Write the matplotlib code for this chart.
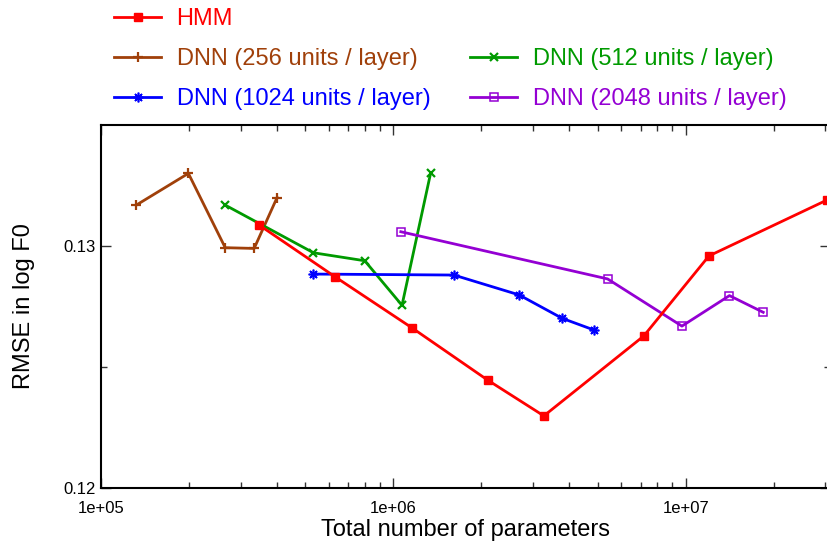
import matplotlib
matplotlib.use("Agg")
import matplotlib.pyplot as plt
from matplotlib.lines import Line2D
from matplotlib.ticker import FixedLocator, LogLocator, NullFormatter

plt.rcParams['font.family'] = ['Liberation Sans', 'DejaVu Sans']

# values
hmm_x = [3.47e5, 6.33e5, 1.16e6, 2.10e6, 3.27e6, 7.18e6, 1.20e7, 3.04e7]
hmm_y = [0.13087, 0.12872, 0.12661, 0.12446, 0.12298, 0.12628, 0.12959, 0.1319]

dnn256_x = [1.32e5, 1.99e5, 2.66e5, 3.34e5, 4.0e5]
dnn256_y = [0.13169, 0.13300, 0.12993, 0.12990, 0.13200]

dnn512_x = [2.66e5, 5.33e5, 7.98e5, 1.07e6, 1.34e6]
dnn512_y = [0.13169, 0.12972, 0.12939, 0.12755, 0.13300]

dnn1024_x = [5.33e5, 1.61e6, 2.69e6, 3.78e6, 4.85e6]
dnn1024_y = [0.12884, 0.12880, 0.12798, 0.12701, 0.12653]

dnn2048_x = [1.06e6, 5.40e6, 9.7e6, 1.41e7, 1.84e7]
dnn2048_y = [0.13059, 0.12864, 0.12669, 0.12795, 0.12726]

series_labels = ["HMM", "DNN (256 units / layer)", "DNN (512 units / layer)",
                 "DNN (1024 units / layer)", "DNN (2048 units / layer)"]

y_ticks = [0.12, 0.13]
y_tick_labels = ["0.12", "0.13"]
x_ticks = [1e5, 1e6, 1e7]
x_tick_labels = ["1e+05", "1e+06", "1e+07"]

W, H = 828, 544
fig = plt.figure(figsize=(W / 100, H / 100), dpi=100)
ax = fig.add_axes([101 / W, (H - 488) / H, 729 / W, 363 / H])

red = '#ff0000'
brown = '#a0400a'
green = '#009a00'
blue = '#0000ff'
purple = '#9400d3'
lw = 2.0

h_hmm, = ax.plot(hmm_x, hmm_y, color=red, lw=lw, marker='s', ms=5.5,
                 clip_on=False, zorder=5)
h_256, = ax.plot(dnn256_x, dnn256_y, color=brown, lw=lw, marker='+', ms=7,
                 mew=1.6)
h_512, = ax.plot(dnn512_x, dnn512_y, color=green, lw=lw, marker='x', ms=6,
                 mew=1.6)
h_1024, = ax.plot(dnn1024_x, dnn1024_y, color=blue, lw=lw, marker=(8, 2, 0),
                  ms=7, mew=1.2)
h_2048, = ax.plot(dnn2048_x, dnn2048_y, color=purple, lw=lw, marker='s', ms=6,
                  mfc='none', mew=1.1)

ax.set_xscale('log')
ax.set_xlim(1e5, 10 ** (5 + 728 / 292.0))
ax.set_ylim(0.12, 0.135)

ax.xaxis.set_major_locator(FixedLocator(x_ticks))
ax.set_xticklabels(x_tick_labels)
ax.xaxis.set_minor_locator(LogLocator(base=10, subs=range(2, 10)))
ax.xaxis.set_minor_formatter(NullFormatter())
ax.set_yticks(y_ticks)
ax.set_yticklabels(y_tick_labels)
ax.yaxis.set_minor_locator(FixedLocator([0.125]))

ax.tick_params(which='both', direction='in', top=True, right=True,
               labelsize=12, width=1.0, color='#333333')
ax.tick_params(which='major', length=7)
ax.tick_params(which='minor', length=4)
ax.tick_params(axis='x', pad=9.5)
ax.tick_params(axis='y', pad=4)
for s in ax.spines.values():
    s.set_linewidth(1.5)

ax.set_xlabel("Total number of parameters", fontsize=17)
ax.set_ylabel("RMSE in log F0", fontsize=17)
ax.xaxis.set_label_coords(0.5, -0.085)
ax.yaxis.set_label_coords(-0.09, 0.5)

# legend above the plot: HMM alone in the first row, two columns below
blank = Line2D([], [], color='none')
handles = [h_hmm, h_256, h_1024, blank, h_512, h_2048]
labels = [series_labels[0], series_labels[1], series_labels[3], "",
          series_labels[2], series_labels[4]]
leg = fig.legend(handles, labels, ncol=2, loc='upper left',
                 bbox_to_anchor=(114 / W, 1 - 8 / H), frameon=False,
                 fontsize=17, handlelength=2.0, handletextpad=0.65,
                 columnspacing=1.68, labelspacing=0.76, borderpad=0,
                 borderaxespad=0, numpoints=1)
for text, h in zip(leg.get_texts(), handles):
    text.set_color(h.get_color())

fig.savefig("out.png", dpi=100)
